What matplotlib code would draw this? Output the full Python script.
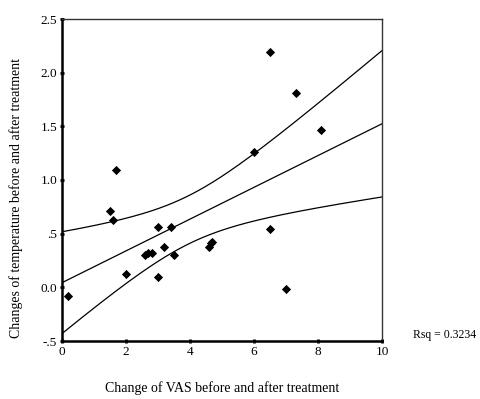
import numpy as np
import matplotlib
matplotlib.use("Agg")
import matplotlib.pyplot as plt

plt.rcParams['font.family'] = ['Liberation Serif', 'DejaVu Serif']

# change of VAS (x) and change of temperature (y)
vas = [0.2, 1.5, 1.6, 1.7, 2.0, 2.6, 2.7, 2.8, 3.0, 3.0, 3.2,
       3.4, 3.5, 4.6, 4.66, 4.7, 6.0, 6.5, 7.3, 8.1, 6.5, 7.0]
temp = [-0.08, 0.71, 0.63, 1.09, 0.12, 0.30, 0.32, 0.32, 0.56, 0.10, 0.38,
        0.56, 0.30, 0.38, 0.41, 0.42, 1.26, 2.19, 1.81, 1.47, 0.54, -0.02]

xticks = [0, 2, 4, 6, 8, 10]
yticks = [-0.5, 0.0, 0.5, 1.0, 1.5, 2.0, 2.5]
yticklabels = ['-.5', '0.0', '.5', '1.0', '1.5', '2.0', '2.5']
rsq_text = 'Rsq = 0.3234'

x = np.array(vas)
y = np.array(temp)
n = len(x)
b, a = np.polyfit(x, y, 1)
resid = y - (a + b * x)
s = np.sqrt(np.sum(resid ** 2) / (n - 2))
sxx = np.sum((x - x.mean()) ** 2)
t = 2.086  # t(0.975, 20)
xs = np.linspace(0, 10, 200)
fit = a + b * xs
half = t * s * np.sqrt(1.0 / n + (xs - x.mean()) ** 2 / sxx)

fig = plt.figure(figsize=(4.81, 3.99), dpi=100)
ax = fig.add_axes([62 / 481, 1 - 341 / 399, 320 / 481, 322 / 399])

ax.plot(xs, fit, color='black', lw=0.9)
ax.plot(xs, fit + half, color='black', lw=0.9)
ax.plot(xs, fit - half, color='black', lw=0.9)
ax.scatter(x, y, marker='D', s=22, color='black', zorder=3, linewidths=0)

ax.set_xlim(0, 10)
ax.set_ylim(-0.5, 2.5)
ax.set_xticks(xticks)
ax.set_xticklabels([str(v) for v in xticks])
ax.set_yticks(yticks)
ax.set_yticklabels(yticklabels)
ax.tick_params(direction='inout', length=3, width=2, labelsize=9.5, pad=2)

ax.spines['left'].set_linewidth(1.8)
ax.spines['bottom'].set_linewidth(1.8)
ax.spines['top'].set_linewidth(1.0)
ax.spines['right'].set_linewidth(1.0)
ax.spines['top'].set_color('#333333')
ax.spines['right'].set_color('#333333')

ax.set_xlabel('Change of VAS before and after treatment', fontsize=10, labelpad=17)
ax.set_ylabel('Changes of temperature before and after treatment', fontsize=10)
ax.yaxis.set_label_coords(-0.122, 0.444)

fig.text(413 / 481, 1 - 335 / 399, rsq_text, fontsize=8.5, va='center', ha='left')

fig.savefig('out.png', dpi=100)
